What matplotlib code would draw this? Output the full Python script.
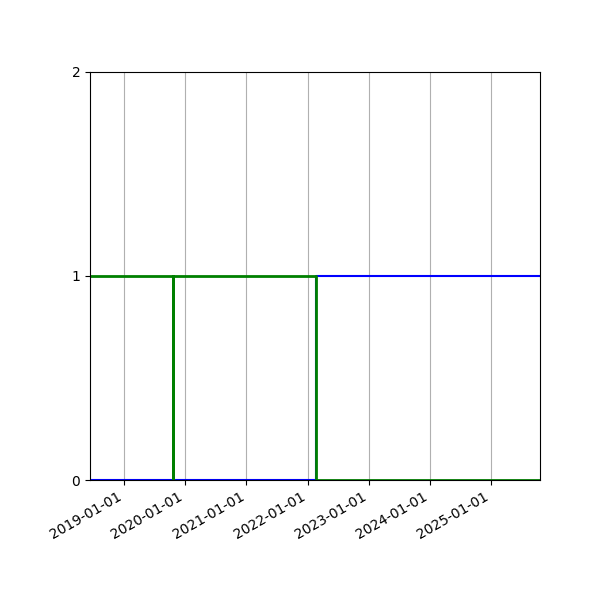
import matplotlib
matplotlib.use("Agg")
import matplotlib.pyplot as plt
import matplotlib.dates as mdates
import numpy as np

# step series (value holds until next date)
blue_dates = ["2018-06-12", "2022-02-22", "2025-10-19"]
blue_values = [0, 1, 1]

green_dates = ["2018-06-12", "2019-10-19", "2019-10-23", "2022-02-22", "2025-10-19"]
green_values = [1, 0, 1, 0, 0]

x_start = "2018-06-12"
x_end = "2025-10-19"
y_ticks = [0, 1, 2]

fig = plt.figure(figsize=(6, 6), dpi=100)
ax = fig.add_axes([0.15, 0.2, 0.75, 0.68])

bd = np.array(blue_dates, dtype="datetime64[D]")
gd = np.array(green_dates, dtype="datetime64[D]")

ax.step(bd, blue_values, where="post", color="blue", linewidth=1.5)
ax.step(gd, green_values, where="post", color="green", linewidth=2)

ax.set_xlim(np.datetime64(x_start), np.datetime64(x_end))
ax.set_ylim(0, 2)
ax.set_yticks(y_ticks)
ax.xaxis.set_major_locator(mdates.YearLocator())
ax.xaxis.set_major_formatter(mdates.DateFormatter("%Y-%m-%d"))
ax.grid(True, axis="x")
for lbl in ax.get_xticklabels():
    lbl.set_rotation(30)
    lbl.set_ha("right")

fig.savefig("out.png", dpi=100)
